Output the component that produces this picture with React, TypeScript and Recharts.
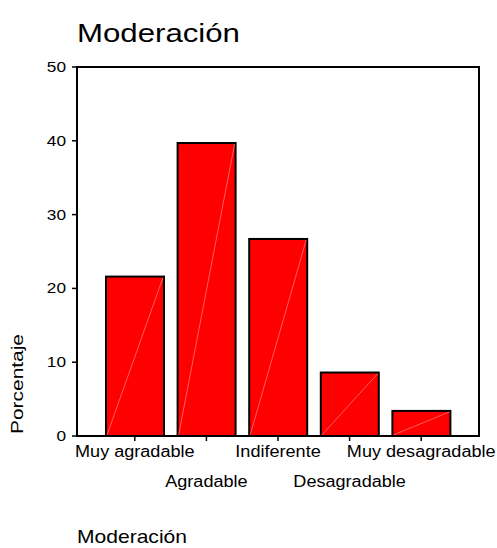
import React from "react";
import { BarChart, Bar, XAxis, YAxis, ReferenceArea } from "recharts";

const categories = ["Muy agradable", "Agradable", "Indiferente", "Desagradable", "Muy desagradable"];
const percentages = [21.6, 39.7, 26.7, 8.6, 3.4];
const yTicks = [0, 10, 20, 30, 40, 50];
const titleText = "Moderación";
const yLabelText = "Porcentaje";
const footerText = "Moderación";

const data = categories.map((c, i) => ({ name: c, value: percentages[i], pos: i }));

const FONT = "'Liberation Sans', Arial, sans-serif";

const BarShape = (props: any) => {
  const { x, y, width, height } = props;
  if (height <= 0) return null;
  return (
    <g>
      <rect x={x} y={y} width={width} height={height} fill="#ff0000" stroke="#000" strokeWidth={2} />
      <line x1={x + 1} y1={y + height - 1} x2={x + width - 1} y2={y + 1} stroke="#ff9c9c" strokeWidth={0.6} />
    </g>
  );
};

const XTick = (props: any) => {
  const { x, y, payload, index } = props;
  const row = index % 2 === 0 ? 14 : 44;
  return (
    <text
      transform={`translate(${x},${y + row}) scale(1.13,1)`}
      x={0}
      y={0}
      textAnchor="middle"
      fontFamily={FONT}
      fontSize={16}
      fill="#000"
    >
      {payload.value}
    </text>
  );
};

const YTick = (props: any) => {
  const { x, y, payload } = props;
  return (
    <text
      transform={`translate(${x - 4},${y + 5}) scale(1.15,1)`}
      x={0}
      y={0}
      textAnchor="end"
      fontFamily={FONT}
      fontSize={15}
      fill="#000"
    >
      {payload.value}
    </text>
  );
};

const lastIndex = categories.length - 1;

export default function App() {
  return (
    <div style={{ position: "absolute", left: 0, top: 0, width: 497, height: 548, background: "#fff" }}>
      <BarChart
        width={497}
        height={548}
        data={data}
        margin={{ top: 67, right: 18, left: 37, bottom: 82 }}
        barSize={58}
      >
        <XAxis
          xAxisId="bottom"
          dataKey="name"
          orientation="bottom"
          height={30}
          padding={{ left: 22, right: 22 }}
          axisLine={{ stroke: "#000", strokeWidth: 2 }}
          tickLine={{ stroke: "#000", strokeWidth: 1.5 }}
          tickSize={5}
          interval={0}
          tick={<XTick />}
        />
        <XAxis xAxisId="frame" dataKey="pos" type="number" domain={[0, lastIndex]} hide />
        <YAxis
          yAxisId="left"
          domain={[0, 50]}
          ticks={yTicks}
          width={40}
          axisLine={{ stroke: "#000", strokeWidth: 2 }}
          tickLine={{ stroke: "#000", strokeWidth: 1.5 }}
          tickSize={5}
          interval={0}
          tick={<YTick />}
        />
        <ReferenceArea
          xAxisId="frame"
          yAxisId="left"
          x1={0}
          x2={lastIndex}
          y1={0}
          y2={50}
          fill="none"
          fillOpacity={0}
          stroke="#000"
          strokeWidth={2}
          strokeOpacity={1}
          ifOverflow="visible"
        />
        <Bar
          dataKey="value"
          xAxisId="bottom"
          yAxisId="left"
          shape={<BarShape />}
          isAnimationActive={false}
        />
      </BarChart>
      <svg
        width={497}
        height={548}
        style={{ position: "absolute", left: 0, top: 0, pointerEvents: "none" }}
      >
        <text
          transform="translate(77,41.5) scale(1.2,1)"
          fontFamily={FONT}
          fontSize={26}
          fill="#000"
        >
          {titleText}
        </text>
        <text
          transform="translate(22.5,384) rotate(-90) scale(1.23,1)"
          textAnchor="middle"
          fontFamily={FONT}
          fontSize={17}
          fill="#000"
        >
          {yLabelText}
        </text>
        <text
          transform="translate(77,543) scale(1.17,1)"
          fontFamily={FONT}
          fontSize={18}
          fill="#000"
        >
          {footerText}
        </text>
      </svg>
    </div>
  );
}
